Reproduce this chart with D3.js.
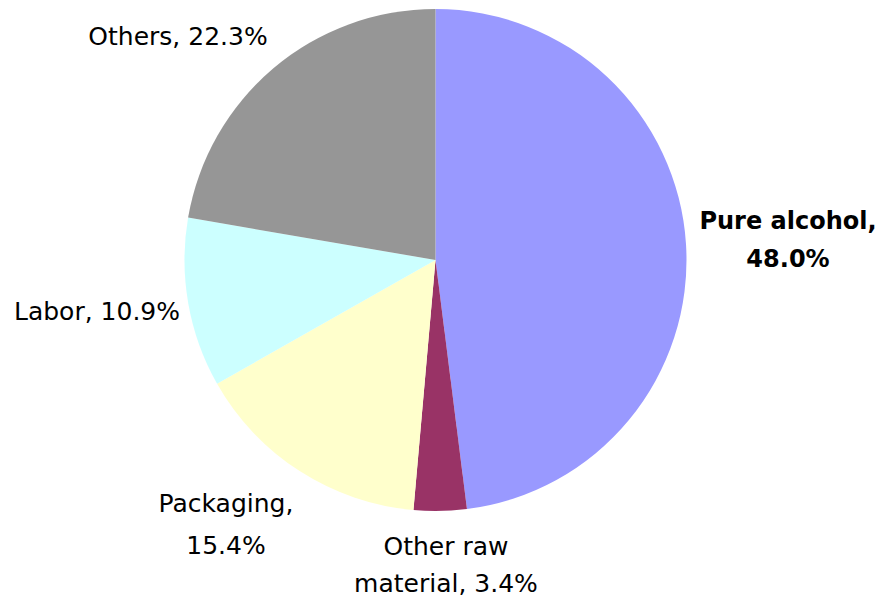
<!DOCTYPE html>
<html><head><meta charset="utf-8">
<script src="https://cdn.jsdelivr.net/npm/d3@7"></script>
<style>body{margin:0;background:#fff}svg{display:block}</style>
</head><body>
<svg id="c" width="884" height="599"></svg>
<script>
const categories = ["Pure alcohol", "Other raw material", "Packaging", "Labor", "Others"];
const values = [48.0, 3.4, 15.4, 10.9, 22.3];
const colors = ["#9999FF", "#993366", "#FFFFCC", "#CCFFFF", "#969696"];
const labelLines = [["Pure alcohol,", "48.0%"], ["Other raw", "material, 3.4%"], ["Packaging,", "15.4%"], ["Labor, 10.9%"], ["Others, 22.3%"]];

const svg = d3.select("#c");
const cx = 435.5, cy = 260, r = 251;
const pie = d3.pie().sort(null).value(d => d)(values);
const arc = d3.arc().innerRadius(0).outerRadius(r);
const g = svg.append("g").attr("transform", `translate(${cx},${cy})`);
g.selectAll("path").data(pie).join("path")
  .attr("d", arc).attr("fill", (d, i) => colors[i]);

// label anchor points (center x, first baseline y, line step)
const labelPos = [[788, 229, 38], [446, 555, 37], [226, 512, 42], [97, 320, 0], [178, 45, 0]];
labelLines.forEach((lines, i) => {
  const [x, y, dy] = labelPos[i];
  const t = svg.append("text").attr("x", x).attr("y", y)
    .attr("text-anchor", "middle")
    .style("font-family", "Tahoma, 'DejaVu Sans', sans-serif")
    .style("font-size", i === 0 ? "24px" : "25px").attr("fill", "#000");
  if (i === 0) t.style("font-weight", "bold");
  lines.forEach((l, k) => t.append("tspan").attr("x", x).attr("y", y + k * dy).text(l));
});
</script>
</body></html>
